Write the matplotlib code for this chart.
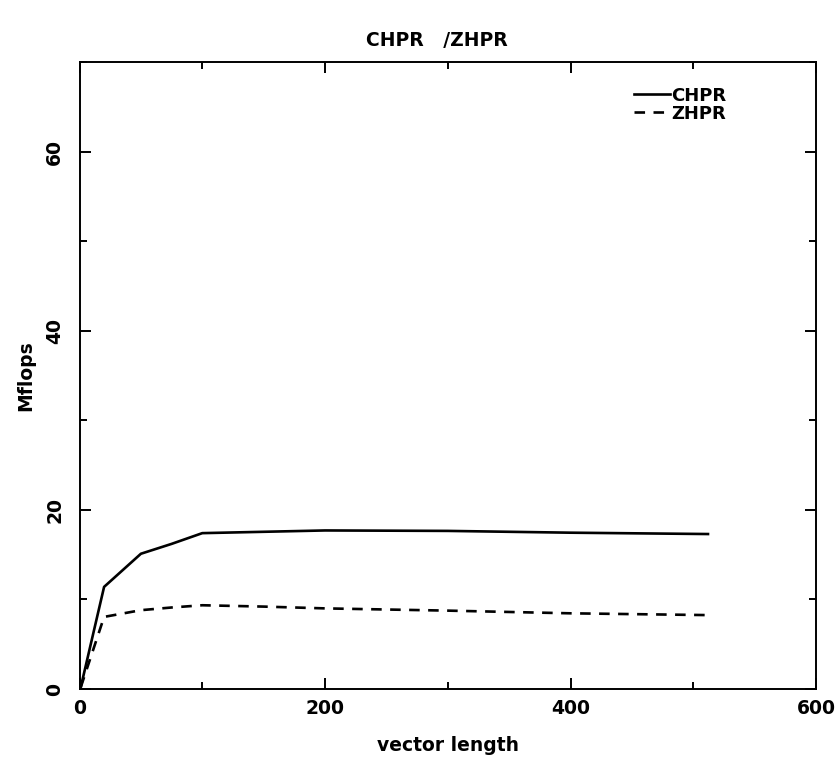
import matplotlib.pyplot as plt
from matplotlib.ticker import MultipleLocator

vector_length = [1, 20, 50, 75, 100, 150, 200, 300, 400, 512]
chpr = [0.2, 11.4, 15.1, 16.2, 17.4, 17.55, 17.7, 17.65, 17.45, 17.3]
zhpr = [0.2, 8.05, 8.8, 9.1, 9.35, 9.2, 9.0, 8.75, 8.45, 8.25]

x_ticks = [0, 200, 400, 600]
y_ticks = [0, 20, 40, 60]

plt.rcParams['font.family'] = ['DejaVu Sans']
plt.rcParams['font.weight'] = 'bold'
plt.rcParams['axes.labelweight'] = 'bold'

fig = plt.figure(figsize=(8.39, 7.61), dpi=100)
ax = fig.add_axes([0.0948, 0.0946, 0.8778, 0.824])

ax.plot(vector_length, chpr, color='black', lw=1.9, label='CHPR')
ax.plot(vector_length, zhpr, color='black', lw=1.9, dashes=(4, 3.2), label='ZHPR')

ax.set_xlim(0, 600)
ax.set_ylim(0, 70)
ax.set_xticks(x_ticks)
ax.set_yticks(y_ticks)
ax.xaxis.set_minor_locator(MultipleLocator(100))
ax.yaxis.set_minor_locator(MultipleLocator(10))

ax.tick_params(which='both', direction='in', top=True, right=True, width=1.4)
ax.tick_params(which='major', length=8)
ax.tick_params(which='minor', length=5)
ax.tick_params(axis='x', labelsize=13.5, pad=7)
ax.tick_params(axis='y', labelsize=13.5, pad=11, labelrotation=90)
for lab in ax.get_yticklabels():
    lab.set_va('center')

for sp in ax.spines.values():
    sp.set_linewidth(1.4)

ax.set_xlabel('vector length', fontsize=13.5)
ax.xaxis.set_label_coords(0.5, -0.075)
ax.set_ylabel('Mflops', fontsize=13.5)
ax.yaxis.set_label_coords(-0.060, 0.5)

fig.text(437 / 839, 1 - 40 / 761, 'CHPR   /ZHPR', ha='center', va='center', fontsize=13.5)

ax.legend(loc='upper left', bbox_to_anchor=(0.74, 0.975), frameon=False,
          fontsize=13, handlelength=2.0, handletextpad=0.1, labelspacing=0.0,
          borderpad=0)

fig.savefig('out.png', dpi=100)
